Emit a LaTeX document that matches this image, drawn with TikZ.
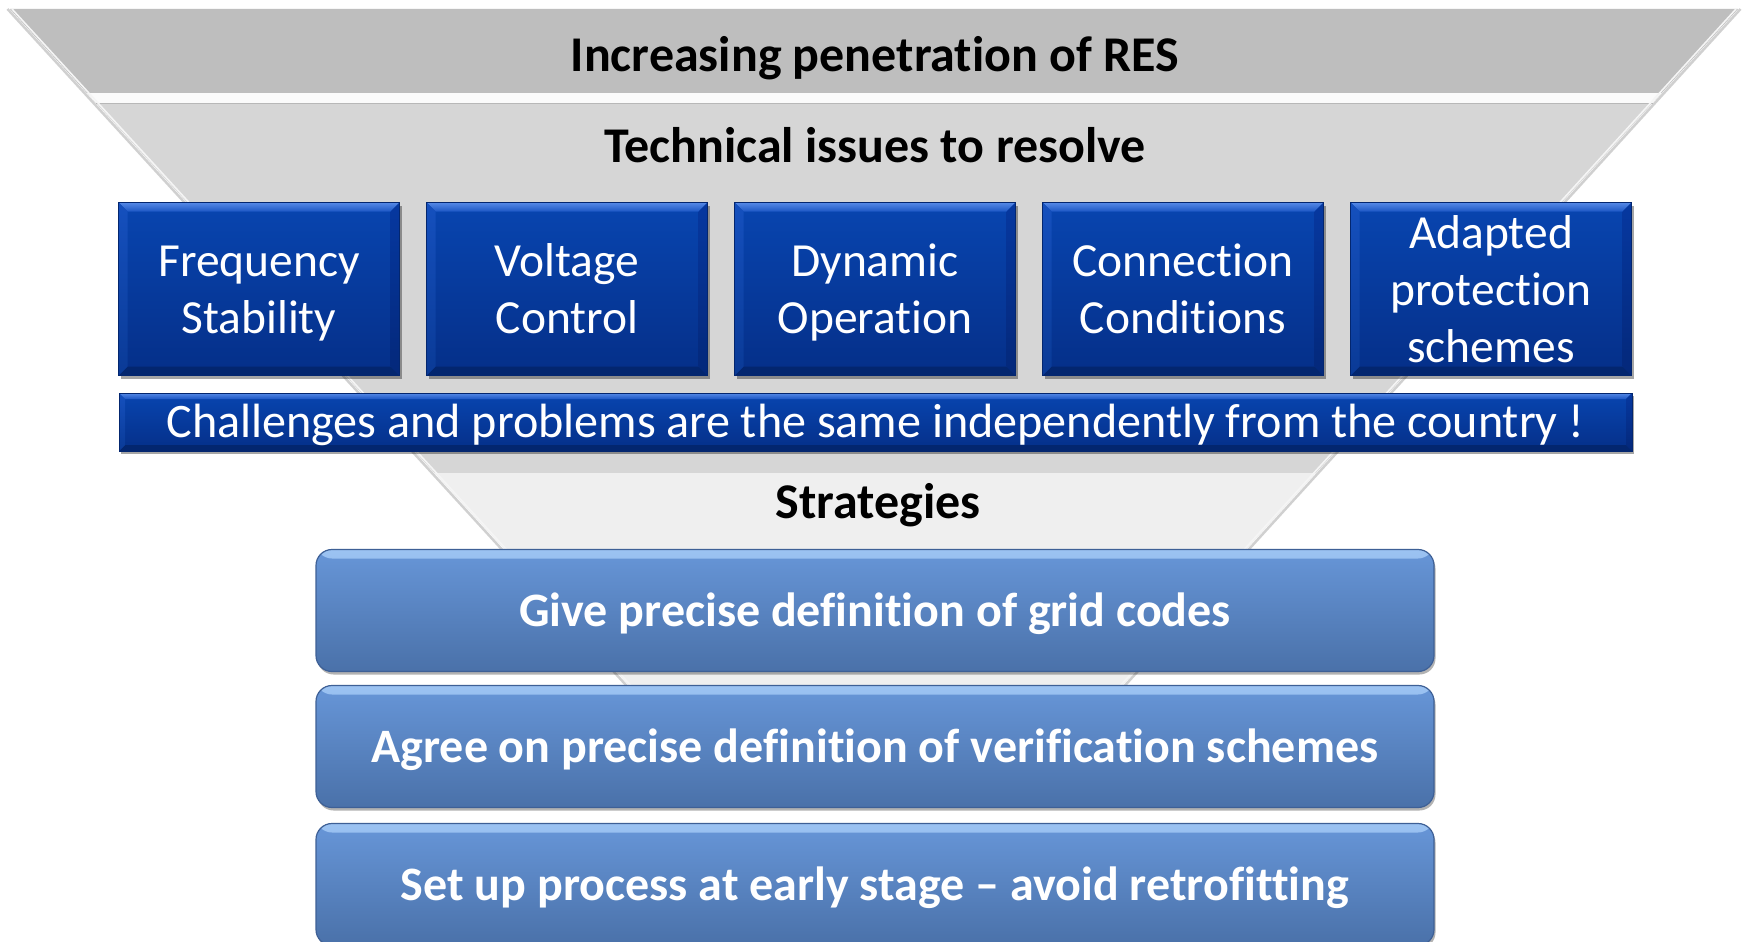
\documentclass[tikz,border=0pt]{standalone}
\usepackage{fontspec}
\setmainfont[Ligatures={NoCommon,NoContextual}]{Carlito}
\usetikzlibrary{shadows}

\definecolor{layA}{HTML}{BEBEBE}
\definecolor{layB}{HTML}{D6D6D6}
\definecolor{layC}{HTML}{EFEFEF}
\definecolor{bluetop}{HTML}{0845B0}
\definecolor{bluebot}{HTML}{052F88}
\definecolor{bevhiA}{HTML}{5589E6}
\definecolor{bevhiB}{HTML}{1C56C4}
\definecolor{bevlo}{HTML}{03266F}
\definecolor{bevleftA}{HTML}{1550BE}
\definecolor{bevleftB}{HTML}{0A3A96}
\definecolor{bevrightA}{HTML}{0638A0}
\definecolor{bevrightB}{HTML}{04287A}
\definecolor{strtop}{HTML}{6796D8}
\definecolor{strbot}{HTML}{4A71A9}
\definecolor{strhi}{HTML}{9CC3F2}
\definecolor{strline}{HTML}{3E6096}

% struts fixing line heights inside the blue boxes
\newcommand\firstlinestrut{\rule[-17pt]{0pt}{65pt}}
\newcommand\nextlinestrut{\rule[-17pt]{0pt}{57pt}}
\newcommand\firstofthree{\rule[-17pt]{0pt}{61pt}}
\newcommand\lastofthree{\rule[-12pt]{0pt}{52pt}}

\tikzset{
  bevel size/.store in=\bevsz, bevel size=9pt,
  bevelled/.style={
    path picture={
      \coordinate (bnw) at (path picture bounding box.north west);
      \coordinate (bne) at (path picture bounding box.north east);
      \coordinate (bsw) at (path picture bounding box.south west);
      \coordinate (bse) at (path picture bounding box.south east);
      \shade[top color=bevhiA, bottom color=bevhiB]
        (bnw) -- (bne) -- ([shift={(-\bevsz,-\bevsz)}]bne) -- ([shift={(\bevsz,-\bevsz)}]bnw) -- cycle;
      \fill[bevlo]
        (bsw) -- (bse) -- ([shift={(-\bevsz,\bevsz)}]bse) -- ([shift={(\bevsz,\bevsz)}]bsw) -- cycle;
      \shade[top color=bevleftA, bottom color=bevleftB]
        (bnw) -- ([shift={(\bevsz,-\bevsz)}]bnw) -- ([shift={(\bevsz,\bevsz)}]bsw) -- (bsw) -- cycle;
      \shade[top color=bevrightA, bottom color=bevrightB]
        (bne) -- ([shift={(-\bevsz,-\bevsz)}]bne) -- ([shift={(-\bevsz,\bevsz)}]bse) -- (bse) -- cycle;
    }},
  issuebox/.style={bevelled, minimum width=281pt, minimum height=173pt, inner sep=0pt,
    top color=bluetop, bottom color=bluebot, draw=bevlo, line width=0.6pt,
    text=white, align=center, font=\fontsize{47.5}{57}\selectfont,
    drop shadow={shadow xshift=2pt, shadow yshift=-3pt, opacity=0.35, fill=black}},
  barbox/.style={issuebox, bevel size=6pt, minimum width=1513pt, minimum height=58pt,
    font=\fontsize{48.1}{57}\selectfont, text height=40pt, text depth=10pt},
  stratbox/.style={minimum width=1118pt, minimum height=122pt, inner sep=0pt,
    rounded corners=16pt, top color=strtop, bottom color=strbot,
    draw=strline, line width=1.2pt, text=white,
    font=\fontsize{48}{58}\selectfont\bfseries, text height=40pt, text depth=9pt,
    drop shadow={shadow xshift=1.5pt, shadow yshift=-3pt, opacity=0.3, fill=black},
    path picture={
      \shade[top color=strhi, bottom color=strtop]
        (path picture bounding box.north west) rectangle
        ([yshift=-9pt]path picture bounding box.north east);
    }},
  heading/.style={anchor=base, font=\fontsize{50}{60}\selectfont\bfseries, text=black, inner sep=0pt},
  edgeshade/.style={black!30, line width=2.5pt, opacity=0.6},
  edgelight/.style={white!92!gray, line width=1.6pt},
}

\begin{document}
\begin{tikzpicture}[x=1pt,y=-1pt]
\useasboundingbox (0,0) rectangle (1743,942);
\fill[white] (0,0) rectangle (1743,942);

% funnel: three stacked bands
\fill[layA] (10,9) -- (1738,9) -- (1652.5,103) -- (96,103) -- cycle;
\fill[white!97!gray] (87,93) -- (1661.6,93) -- (1652.5,103) -- (96,103) -- cycle;
\fill[layB] (96,103) -- (1652.5,103) -- (1315.8,473) -- (434.6,473) -- cycle;
\draw[black!28, line width=1.5pt] (96,103.5) -- (1652.5,103.5);
\fill[layC] (434.6,473) -- (1315.8,473) -- (1118.3,690) -- (633.1,690) -- cycle;

% funnel side edges: outer shade and inner highlight
\draw[edgeshade] (7.5,9) -- (630.5,690);
\draw[edgeshade] (1740.5,9) -- (1120.8,690);
\draw[edgelight] (12,9) -- (635,690);
\draw[edgelight] (1736,9) -- (1116.3,690);

% headings
\node[heading] (t1) at (875,72) {Increasing penetration of RES};
\node[heading] (t2) at (875,162) {Technical issues to resolve};
\node[heading] (t3) at (878,518) {Strategies};

% technical issues
\node[issuebox] (fs) at (259,289) {\firstlinestrut Frequency\\\nextlinestrut Stability};
\node[issuebox] (vc) at (567,289) {\firstlinestrut Voltage\\\nextlinestrut Control};
\node[issuebox] (dy) at (875,289) {\firstlinestrut Dynamic\\\nextlinestrut Operation};
\node[issuebox] (cc) at (1183,289) {\firstlinestrut Connection\\\nextlinestrut Conditions};
\node[issuebox] (ap) at (1491,289) {\firstofthree Adapted\\\nextlinestrut protection\\\lastofthree schemes};

\node[barbox] (ch) at (875.5,422) {Challenges and problems are the same independently from the country !};

% strategies
\node[stratbox] (s1) at (875,610.5) {Give precise definition of grid codes};
\node[stratbox] (s2) at (875,746.5) {Agree on precise definition of verification schemes};
\node[stratbox] (s3) at (875,884.5) {Set up process at early stage – avoid retrofitting};
\end{tikzpicture}
\end{document}
